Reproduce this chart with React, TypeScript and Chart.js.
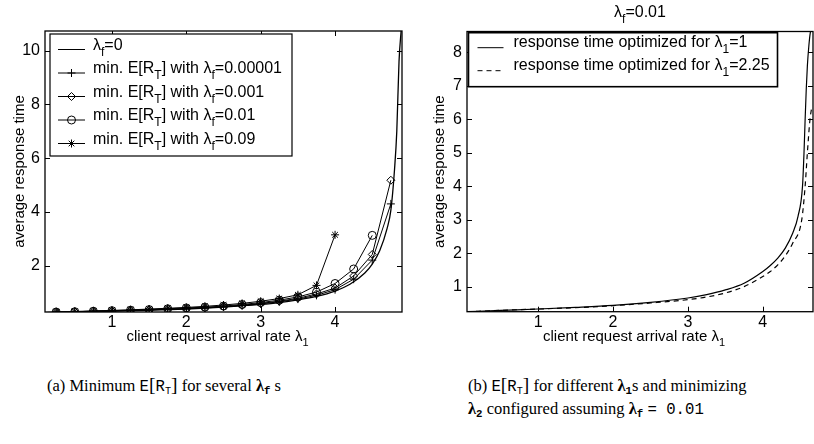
import React, { useEffect, useRef } from 'react';
import { Chart, registerables } from 'chart.js';

Chart.register(...registerables);

const SANS = '"Liberation Sans", Arial, Helvetica, sans-serif';
const SERIF = '"Liberation Serif", "Times New Roman", Times, serif';
const MONO = '"Liberation Mono", "DejaVu Sans Mono", monospace';

// ---------- Panel (a): minimum E[R_T] for several lambda_f ----------
const markerRates = [0.25, 0.5, 0.75, 1, 1.25, 1.5, 1.75, 2, 2.25, 2.5, 2.75, 3, 3.25, 3.5, 3.75, 4, 4.25, 4.5, 4.75];
const baselineRates = [0.1, 0.25, 0.5, 0.75, 1, 1.5, 2, 2.5, 3, 3.25, 3.5, 3.75, 4, 4.2, 4.4, 4.5, 4.6, 4.7, 4.75, 4.8, 4.83, 4.86, 4.89];
const rtLf0 = [0.26, 0.27, 0.28, 0.295, 0.31, 0.345, 0.39, 0.46, 0.56, 0.63, 0.73, 0.86, 1.06, 1.31, 1.73, 2.06, 2.56, 3.39, 4.06, 5.6, 7.0, 9.6, 10.8];
const rtLf00001 = [0.27, 0.28, 0.30, 0.32, 0.34, 0.36, 0.38, 0.40, 0.43, 0.47, 0.52, 0.58, 0.66, 0.76, 0.90, 1.11, 1.50, 2.21, 4.30];
const rtLf0001 = [0.27, 0.29, 0.31, 0.32, 0.34, 0.36, 0.39, 0.41, 0.44, 0.48, 0.53, 0.60, 0.68, 0.79, 0.95, 1.17, 1.62, 2.42, 5.18];
const rtLf001 = [0.28, 0.29, 0.31, 0.33, 0.35, 0.37, 0.40, 0.43, 0.46, 0.50, 0.56, 0.63, 0.72, 0.84, 1.02, 1.34, 1.88, 3.13];
const rtLf009 = [0.29, 0.30, 0.32, 0.34, 0.36, 0.39, 0.42, 0.45, 0.49, 0.54, 0.60, 0.68, 0.78, 0.92, 1.27, 3.15];
const leftXTicks = [1, 2, 3, 4];
const leftYTicks = [2, 4, 6, 8, 10];

// ---------- Panel (b): E[R_T] for different lambda_1 ----------
const optRates1 = [0.05, 0.5, 1, 1.5, 2, 2.5, 3, 3.25, 3.5, 3.75, 4, 4.1, 4.2, 4.3, 4.4, 4.47, 4.53, 4.55, 4.565, 4.58, 4.595, 4.615, 4.635, 4.67];
const rtOpt1 = [0.25, 0.29, 0.33, 0.38, 0.44, 0.53, 0.66, 0.76, 0.90, 1.10, 1.45, 1.63, 1.85, 2.15, 2.6, 3.1, 4.0, 5.0, 6.0, 6.9, 7.6, 8.2, 8.6, 8.9];
const optRates225 = [0.05, 0.5, 1, 1.5, 2, 2.5, 3, 3.25, 3.5, 3.75, 4, 4.1, 4.2, 4.3, 4.4, 4.52, 4.565, 4.595, 4.63, 4.653];
const rtOpt225 = [0.25, 0.29, 0.33, 0.37, 0.43, 0.51, 0.61, 0.69, 0.81, 1.0, 1.3, 1.45, 1.65, 1.92, 2.3, 3.0, 4.0, 5.0, 6.0, 6.35];
const rightXTicks = [1, 2, 3, 4];
const rightYTicks = [1, 2, 3, 4, 5, 6, 7, 8];

type Seg = { t: string; sub?: boolean };

function drawRich(ctx: CanvasRenderingContext2D, segs: Seg[], x: number, y: number, align: 'left' | 'center', size: number) {
  const main = `${size}px ${SANS}`;
  const subSize = Math.round(size * 0.72);
  const sub = `${subSize}px ${SANS}`;
  let total = 0;
  const widths = segs.map((s) => {
    ctx.font = s.sub ? sub : main;
    const w = ctx.measureText(s.t).width;
    total += w;
    return w;
  });
  let cx = align === 'center' ? x - total / 2 : x;
  ctx.save();
  ctx.fillStyle = '#000';
  ctx.textBaseline = 'middle';
  ctx.textAlign = 'left';
  segs.forEach((s, i) => {
    ctx.font = s.sub ? sub : main;
    ctx.fillText(s.t, cx, s.sub ? y + size * 0.42 : y);
    cx += widths[i];
  });
  ctx.restore();
}

function drawMarker(ctx: CanvasRenderingContext2D, style: string, x: number, y: number, r: number) {
  ctx.beginPath();
  if (style === 'cross') {
    ctx.moveTo(x - r, y); ctx.lineTo(x + r, y);
    ctx.moveTo(x, y - r); ctx.lineTo(x, y + r);
  } else if (style === 'rectRot') {
    ctx.moveTo(x, y - r); ctx.lineTo(x + r, y); ctx.lineTo(x, y + r); ctx.lineTo(x - r, y); ctx.closePath();
  } else if (style === 'circle') {
    ctx.arc(x, y, r, 0, Math.PI * 2);
  } else if (style === 'star') {
    const d = r * 0.707;
    ctx.moveTo(x - r, y); ctx.lineTo(x + r, y);
    ctx.moveTo(x, y - r); ctx.lineTo(x, y + r);
    ctx.moveTo(x - d, y - d); ctx.lineTo(x + d, y + d);
    ctx.moveTo(x - d, y + d); ctx.lineTo(x + d, y - d);
  }
  ctx.stroke();
}

type LegendItem = { segs: Seg[]; marker?: string; dash?: number[] };
type LegendCfg = {
  dx: number; dy: number; w: number; h: number;
  rows: number[]; lineX0: number; lineX1: number; textX: number; textDy: number;
  items: LegendItem[]; size: number; boxWidth: number;
};

function framePlugin(xTicks: number[], yTicks: number[], legend: LegendCfg, xTitle: Seg[], xTitleDx: number, top?: Seg[]) {
  return {
    id: 'matlabFrame',
    afterDraw(chart: any) {
      const ctx: CanvasRenderingContext2D = chart.ctx;
      const a = chart.chartArea;
      const xs = chart.scales.x;
      const ys = chart.scales.y;
      ctx.save();
      ctx.strokeStyle = '#000';
      ctx.lineWidth = 1;
      // inner ticks
      ctx.beginPath();
      const tl = 5;
      xTicks.forEach((v) => {
        const px = Math.round(xs.getPixelForValue(v)) + 0.5;
        ctx.moveTo(px, a.bottom); ctx.lineTo(px, a.bottom - tl);
        ctx.moveTo(px, a.top); ctx.lineTo(px, a.top + tl);
      });
      yTicks.forEach((v) => {
        const py = Math.round(ys.getPixelForValue(v)) + 0.5;
        ctx.moveTo(a.left, py); ctx.lineTo(a.left + tl, py);
        ctx.moveTo(a.right, py); ctx.lineTo(a.right - tl, py);
      });
      ctx.stroke();
      // frame
      ctx.lineWidth = 1.3;
      ctx.strokeRect(a.left, a.top, a.right - a.left, a.bottom - a.top);

      // legend
      const bx = a.left + legend.dx;
      const by = a.top + legend.dy;
      ctx.fillStyle = '#fff';
      ctx.fillRect(bx, by, legend.w, legend.h);
      ctx.lineWidth = legend.boxWidth;
      ctx.strokeRect(bx, by, legend.w, legend.h);
      legend.items.forEach((it, i) => {
        const ry = by + legend.rows[i];
        ctx.lineWidth = 1;
        ctx.setLineDash(it.dash || []);
        ctx.beginPath();
        ctx.moveTo(bx + legend.lineX0, ry);
        ctx.lineTo(bx + legend.lineX1, ry);
        ctx.stroke();
        ctx.setLineDash([]);
        if (it.marker) drawMarker(ctx, it.marker, bx + (legend.lineX0 + legend.lineX1) / 2, ry, 4);
        drawRich(ctx, it.segs, bx + legend.textX, ry + legend.textDy, 'left', legend.size);
      });

      // x axis title
      drawRich(ctx, xTitle, (a.left + a.right) / 2 + xTitleDx, 337, 'center', 15);
      if (top) drawRich(ctx, top, (a.left + a.right) / 2, 13, 'center', 16);
      ctx.restore();
    },
  };
}

function pts(xs: number[], ys: number[]) {
  return ys.map((y, i) => ({ x: xs[i], y }));
}

function makeConfig(p: {
  datasets: any[]; xMin: number; xMax: number; yMin: number; yMax: number;
  xTicks: number[]; yTicks: number[]; yWidth: number; yTitlePad: number;
  padding: any; plugin: any;
}): any {
  return {
    type: 'line',
    data: { datasets: p.datasets },
    options: {
      animation: false,
      responsive: false,
      devicePixelRatio: 1,
      layout: { padding: p.padding },
      plugins: { legend: { display: false }, tooltip: { enabled: false }, title: { display: false } },
      elements: { line: { tension: 0 } },
      scales: {
        x: {
          type: 'linear', min: p.xMin, max: p.xMax,
          afterBuildTicks: (s: any) => { s.ticks = p.xTicks.map((v) => ({ value: v })); },
          afterFit: (s: any) => { s.height = 40; },
          grid: { display: false, drawTicks: false },
          border: { display: false },
          ticks: { padding: 1, color: '#000', font: { family: SANS, size: 16 }, maxRotation: 0, autoSkip: false },
        },
        y: {
          type: 'linear', min: p.yMin, max: p.yMax,
          afterBuildTicks: (s: any) => { s.ticks = p.yTicks.map((v) => ({ value: v })); },
          afterFit: (s: any) => { s.width = p.yWidth; },
          grid: { display: false, drawTicks: false },
          border: { display: false },
          ticks: { padding: 5, color: '#000', font: { family: SANS, size: 16 }, autoSkip: false },
          title: { display: true, text: 'average response time', color: '#000', font: { family: SANS, size: 15 }, padding: { top: p.yTitlePad, bottom: 0 } },
        },
      },
    },
    plugins: [p.plugin],
  };
}

const markerDs = (label: string, xs: number[], ys: number[], style: string) => ({
  label,
  data: pts(xs, ys),
  borderColor: '#000',
  borderWidth: 1,
  pointStyle: style,
  pointRadius: 4,
  pointBorderWidth: 1,
  pointBorderColor: '#000',
  pointBackgroundColor: 'rgba(0,0,0,0)',
  fill: false,
});

function LeftChart() {
  const ref = useRef<HTMLCanvasElement>(null);
  useEffect(() => {
    const lf: Seg[] = [{ t: 'λ' }, { t: 'f', sub: true }];
    const minE: Seg[] = [{ t: 'min. E[R' }, { t: 'T', sub: true }, { t: '] with λ' }, { t: 'f', sub: true }];
    const legend: LegendCfg = {
      dx: 5, dy: 3, w: 242, h: 122, rows: [15.5, 39, 62.5, 86, 109.5],
      lineX0: 8, lineX1: 35, textX: 43, textDy: -4, size: 16, boxWidth: 1.2,
      items: [
        { segs: [...lf, { t: '=0' }] },
        { segs: [...minE, { t: '=0.00001' }], marker: 'cross' },
        { segs: [...minE, { t: '=0.001' }], marker: 'rectRot' },
        { segs: [...minE, { t: '=0.01' }], marker: 'circle' },
        { segs: [...minE, { t: '=0.09' }], marker: 'star' },
      ],
    };
    const plugin = framePlugin(leftXTicks, leftYTicks, legend, [{ t: 'client request arrival rate λ' }, { t: '1', sub: true }], -6);
    const chart = new Chart(ref.current!, makeConfig({
      datasets: [
        { label: 'λf=0', data: pts(baselineRates, rtLf0), borderColor: '#000', borderWidth: 1.3, pointRadius: 0, fill: false, cubicInterpolationMode: 'monotone' },
        markerDs('0.00001', markerRates, rtLf00001, 'cross'),
        markerDs('0.001', markerRates, rtLf0001, 'rectRot'),
        markerDs('0.01', markerRates, rtLf001, 'circle'),
        markerDs('0.09', markerRates, rtLf009, 'star'),
      ],
      xMin: 0.1, xMax: 4.9, yMin: 0.28, yMax: 10.73,
      xTicks: leftXTicks, yTicks: leftYTicks, yWidth: 45, yTitlePad: 11,
      padding: { left: 0, right: 5, top: 31, bottom: 8 },
      plugin,
    }));
    return () => chart.destroy();
  }, []);
  return <canvas ref={ref} width={407} height={360} style={{ position: 'absolute', left: 0, top: 0, width: 407, height: 360 }} />;
}

function RightChart() {
  const ref = useRef<HTMLCanvasElement>(null);
  useEffect(() => {
    const legend: LegendCfg = {
      dx: 1.5, dy: 1.2, w: 309, h: 54, rows: [15, 38],
      lineX0: 9, lineX1: 35, textX: 45, textDy: -5, size: 16, boxWidth: 1.6,
      items: [
        { segs: [{ t: 'response time optimized for λ' }, { t: '1', sub: true }, { t: '=1' }] },
        { segs: [{ t: 'response time optimized for λ' }, { t: '1', sub: true }, { t: '=2.25' }], dash: [5, 4] },
      ],
    };
    const plugin = framePlugin(rightXTicks, rightYTicks, legend, [{ t: 'client request arrival rate λ' }, { t: '1', sub: true }], -6,
      [{ t: 'λ' }, { t: 'f', sub: true }, { t: '=0.01' }]);
    const chart = new Chart(ref.current!, makeConfig({
      datasets: [
        { label: 'opt 1', data: pts(optRates1, rtOpt1), borderColor: '#000', borderWidth: 1.2, pointRadius: 0, fill: false, cubicInterpolationMode: 'monotone' },
        { label: 'opt 2.25', data: pts(optRates225, rtOpt225), borderColor: '#000', borderWidth: 1.2, borderDash: [5, 4], pointRadius: 0, fill: false, cubicInterpolationMode: 'monotone' },
      ],
      xMin: 0.05, xMax: 4.67, yMin: 0.25, yMax: 8.62,
      xTicks: rightXTicks, yTicks: rightYTicks, yWidth: 60, yTitlePad: 24,
      padding: { left: 0, right: 1, top: 31.5, bottom: 8.3 },
      plugin,
    }));
    return () => chart.destroy();
  }, []);
  return <canvas ref={ref} width={407} height={360} style={{ position: 'absolute', left: 407, top: 0, width: 407, height: 360 }} />;
}

const capStyle: React.CSSProperties = {
  position: 'absolute', top: 375, fontFamily: SERIF, fontSize: 16.5, lineHeight: '22px', color: '#000', whiteSpace: 'nowrap',
};
const mono: React.CSSProperties = { fontFamily: MONO, fontSize: '0.95em' };
const big: React.CSSProperties = { fontFamily: SERIF, fontSize: '1.25em', lineHeight: 0 };
const subMono: React.CSSProperties = { fontFamily: MONO, fontSize: '0.65em', verticalAlign: '-0.25em', lineHeight: 0 };

function ERT() {
  return (
    <span style={mono}>E<span style={big}>[</span>R<span style={subMono}>T</span><span style={big}>]</span></span>
  );
}

function Lam({ s }: { s: string }) {
  return (
    <span><b>λ</b><span style={{ ...subMono, fontWeight: 'bold' }}>{s}</span></span>
  );
}

export default function App() {
  return (
    <div style={{ position: 'fixed', left: 0, top: 0, width: 814, height: 444, background: '#fff', overflow: 'hidden' }}>
      <LeftChart />
      <RightChart />
      <div style={{ ...capStyle, left: 47 }}>
        (a) Minimum <ERT /> for several <Lam s="f" /> s
      </div>
      <div style={{ ...capStyle, left: 468 }}>
        (b) <ERT /> for different <Lam s="1" />s and minimizing
        <br />
        <Lam s="2" /> configured assuming <Lam s="f" /> <span style={mono}>= 0.01</span>
      </div>
    </div>
  );
}
